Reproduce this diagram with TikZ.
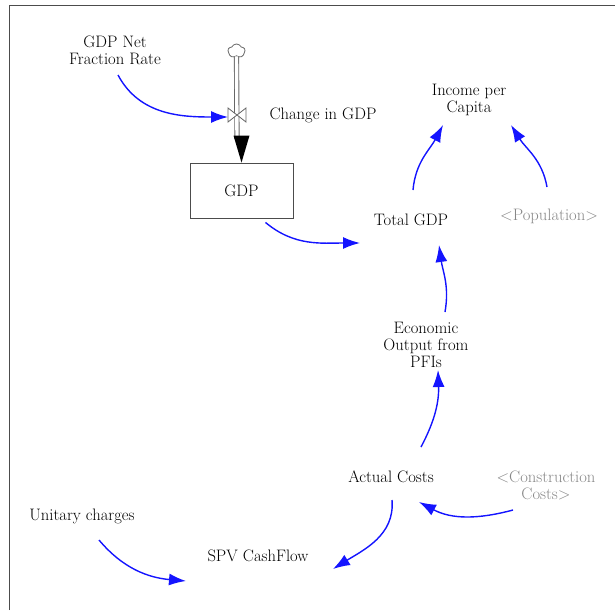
\documentclass[tikz,border=0pt]{standalone}
\usetikzlibrary{arrows.meta,calc,shapes.symbols}
\definecolor{linkblue}{RGB}{20,20,255}
\definecolor{ghost}{RGB}{135,135,135}
\tikzset{
  lbl/.style={font=\fontsize{16.6}{17}\selectfont, align=center, inner sep=0pt, text=black},
  shadow/.style={lbl, text=ghost},
  link/.style={draw=linkblue, line width=1.4pt, -{Latex[length=17pt,width=12pt]}},
  stockbox/.style={draw=black!70, line width=0.9pt, minimum width=103pt, minimum height=55pt, inner sep=0pt, font=\fontsize{16.6}{17}\selectfont},
  pipe/.style={draw=black!60, line width=0.9pt, double=white, double distance=3.4pt},
}
\begin{document}
\begin{tikzpicture}[x=1pt,y=1pt]
\useasboundingbox (0,0) rectangle (615,-610);
% frame
\draw[black!70, line width=1pt] (9,-610) -- (9,-6) -- (615,-6);
% nodes
\node[lbl] (gnfr) at (115,-50) {GDP Net\\Fraction Rate};
\node[lbl] (chg) at (323,-115) {Change in GDP};
\node[lbl] (inc) at (469,-100) {Income per\\Capita};
\node[stockbox] (gdp) at (241.5,-190.5) {GDP};
\node[lbl] (tot) at (411,-220) {Total GDP};
\node[shadow] (pop) at (549,-216) {<Population>};
\node[lbl] (eco) at (426,-345) {Economic\\Output from\\PFIs};
\node[lbl] (act) at (391,-477) {Actual Costs};
\node[shadow] (con) at (546,-485) {<Construction\\Costs>};
\node[lbl] (uni) at (82,-516) {Unitary charges};
\node[lbl] (spv) at (258,-556) {SPV CashFlow};
% source cloud
\node[cloud, draw=black!60, line width=0.8pt, cloud puffs=5, cloud puff arc=130, minimum width=17pt, minimum height=14pt, inner sep=0pt, aspect=1.1] (src) at (236.5,-51) {};
% valve
\coordinate (valve) at (237,-115);
\coordinate (flowend) at (237,-139);
\draw[pipe] (src.south) -- (flowend);
\draw[black!60, line width=0.8pt, fill=white] (valve) -- ++(-9,7) -- ++(0,-14) -- cycle;
\draw[black!60, line width=0.8pt, fill=white] (valve) -- ++(9,7) -- ++(0,-14) -- cycle;
\fill[black] ($(gdp.north)+(-8,27)$) -- ($(gdp.north)+(8,27)$) -- (gdp.north) -- cycle;
% links
\draw[link] ($(gnfr)+(3,-25)$) to[out=-62,in=180] ($(valve)+(-9,-2)$);
\draw[link] ($(gdp.south)+(24,-4)$) to[out=-40,in=180] ($(tot)+(-51,-23)$);
\draw[link] ($(tot)+(2,30)$) to[out=85,in=-118] ($(inc)+(-26,-25)$);
\draw[link] ($(pop)+(-2,29)$) to[out=100,in=-58] ($(inc)+(42,-25)$);
\draw[link] ($(eco)+(19,33)$) to[out=80,in=-82] ($(tot)+(28,-25)$);
\draw[link] ($(act)+(30,30)$) to[out=62,in=-88] ($(eco)+(12,-25)$);
\draw[link] ($(con)+(-33,-25)$) to[out=195,in=-28] ($(act)+(28,-25)$);
\draw[link] ($(act)+(1,-23)$) to[out=-85,in=32] ($(spv)+(75,-13)$);
\draw[link] ($(uni)+(17,-24)$) to[out=-50,in=175] ($(spv)+(-72,-25)$);
\end{tikzpicture}
\end{document}
